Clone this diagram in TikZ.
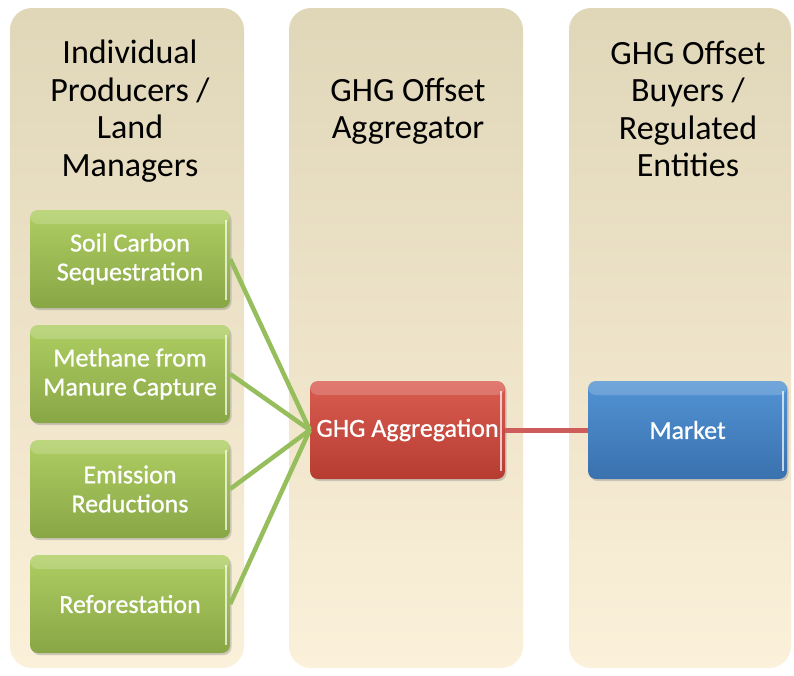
\documentclass[tikz,border=0pt]{standalone}
\usepackage{fontspec}
\setmainfont{Carlito}
\newfontfamily\boxfont[FakeBold=0.8]{Carlito}
\usetikzlibrary{shadows}
\definecolor{colTop}{RGB}{224,214,184}
\definecolor{colBot}{RGB}{251,240,217}
\definecolor{grnTop}{RGB}{174,206,98}
\definecolor{grnBot}{RGB}{137,166,70}
\definecolor{redTop}{RGB}{218,92,80}
\definecolor{redBot}{RGB}{182,60,50}
\definecolor{bluTop}{RGB}{82,147,212}
\definecolor{bluBot}{RGB}{58,113,174}
\definecolor{grnLine}{RGB}{150,190,92}
\definecolor{redLine}{RGB}{205,92,90}
\tikzset{
  column/.style={rounded corners=22pt,top color=colTop,bottom color=colBot,minimum width=234,minimum height=660},
  head/.style={align=center,font=\fontsize{34}{37.5}\selectfont},
  box/.style={rounded corners=8pt,align=center,text=white,font=\boxfont\fontsize{26}{29}\selectfont,
    minimum width=200,minimum height=98,drop shadow={opacity=0.35,shadow xshift=1.5pt,shadow yshift=-2pt},
    path picture={\fill[white,opacity=0.18](path picture bounding box.north west)rectangle([yshift=-14pt]path picture bounding box.north east);
      \draw[white,opacity=0.7,line width=2pt]([xshift=-4pt,yshift=-10pt]path picture bounding box.north east)--([xshift=-4pt,yshift=8pt]path picture bounding box.south east);}},
  greenbox/.style={box,top color=grnTop,bottom color=grnBot},
  redbox/.style={box,top color=redTop,bottom color=redBot,minimum width=195},
  bluebox/.style={box,top color=bluTop,bottom color=bluBot,minimum width=199},
}
\begin{document}
\begin{tikzpicture}[x=1pt,y=-1pt]
\useasboundingbox (0,0) rectangle (794,675);
\fill[white] (0,0) rectangle (794,675);
\node[column] (colProd) at (127,338) {};%左の列
\node[column] (colAgg) at (406,338) {};%中央の列
\node[column,minimum width=222] (colBuy) at (680,338) {};%右の列
\node[head] (headProd) at (130,111) {Individual\\Producers /\\Land\\Managers};
\node[head] (headAgg) at (408,111) {GHG Offset\\Aggregator};
\node[head] (headBuy) at (688,109) {GHG Offset\\Buyers /\\Regulated\\Entities};
\node[greenbox] (soil) at (130,259) {Soil Carbon\\Sequestration};
\node[greenbox] (methane) at (130,374) {Methane from\\Manure Capture};
\node[greenbox] (emission) at (130,489) {Emission\\Reductions};
\node[greenbox] (refor) at (130,604) {Reforestation};
\node[redbox] (agg) at (407.5,430) {GHG Aggregation};
\node[bluebox] (market) at (687.5,430) {Market};
\draw[grnLine,line width=4.5pt](soil.east)--(agg.west);
\draw[grnLine,line width=4.5pt](methane.east)--(agg.west);
\draw[grnLine,line width=4.5pt](emission.east)--(agg.west);
\draw[grnLine,line width=4.5pt](refor.east)--(agg.west);
\draw[redLine,line width=5pt](agg.east)--(market.west);%市場へ
\end{tikzpicture}
\end{document}
